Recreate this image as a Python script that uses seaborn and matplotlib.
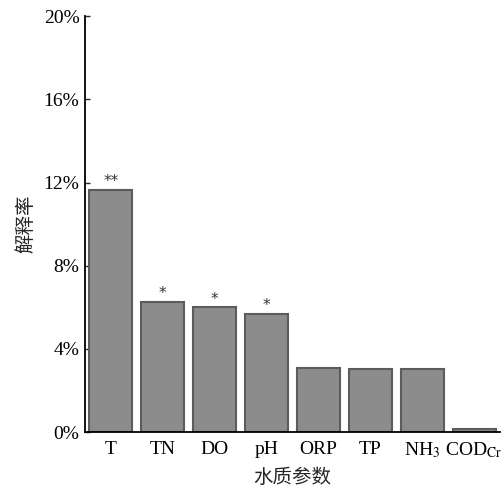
import matplotlib
matplotlib.use("Agg")
import matplotlib.pyplot as plt
import seaborn as sns
import pandas as pd

# 数据
params = ["T", "TN", "DO", "pH", "ORP", "TP", r"NH$_3$", r"COD$_{\mathrm{Cr}}$"]
rates = [11.66, 6.27, 6.02, 5.69, 3.08, 3.06, 3.03, 0.15]
signif = ["**", "*", "*", "*", "", "", "", ""]
yticks = [0, 4, 8, 12, 16, 20]

sns.set_style("ticks")
plt.rcParams["font.family"] = ["Liberation Serif", "Noto Sans CJK SC"]
plt.rcParams["mathtext.fontset"] = "stix"
plt.rcParams["xtick.direction"] = "in"
plt.rcParams["ytick.direction"] = "in"

df = pd.DataFrame({"param": params, "rate": rates})

fig = plt.figure(figsize=(5.03, 4.9), dpi=100)
ax = fig.add_axes([0.169, 0.118, 0.825, 0.849])

sns.barplot(data=df, x="param", y="rate", color="#8c8c8c", saturation=1,
            edgecolor="#5c5c5c", linewidth=1.5, width=0.83, ax=ax)

for i, (v, s) in enumerate(zip(rates, signif)):
    if s:
        ax.text(i, v + 0.02, s, ha="center", va="bottom", fontsize=11,
                color="#333333", family="DejaVu Sans")

ax.set_ylim(0, 20)
ax.set_xlim(-0.5, 7.5)
ax.set_yticks(yticks)
ax.set_yticklabels([f"{t}%" for t in yticks], fontsize=14, color="black")
ax.tick_params(axis="x", length=0, labelsize=14, labelcolor="black", pad=6)
ax.tick_params(axis="y", length=3.5, width=1, pad=4)
ax.set_xlabel("水质参数", fontsize=14, family="Noto Sans CJK SC", labelpad=5)
ax.set_ylabel("解释率", fontsize=14, family="Noto Sans CJK SC", labelpad=5)

sns.despine(ax=ax)
for sp in ["left", "bottom"]:
    ax.spines[sp].set_linewidth(1.3)
    ax.spines[sp].set_color("black")

fig.savefig("out.png", dpi=100)
